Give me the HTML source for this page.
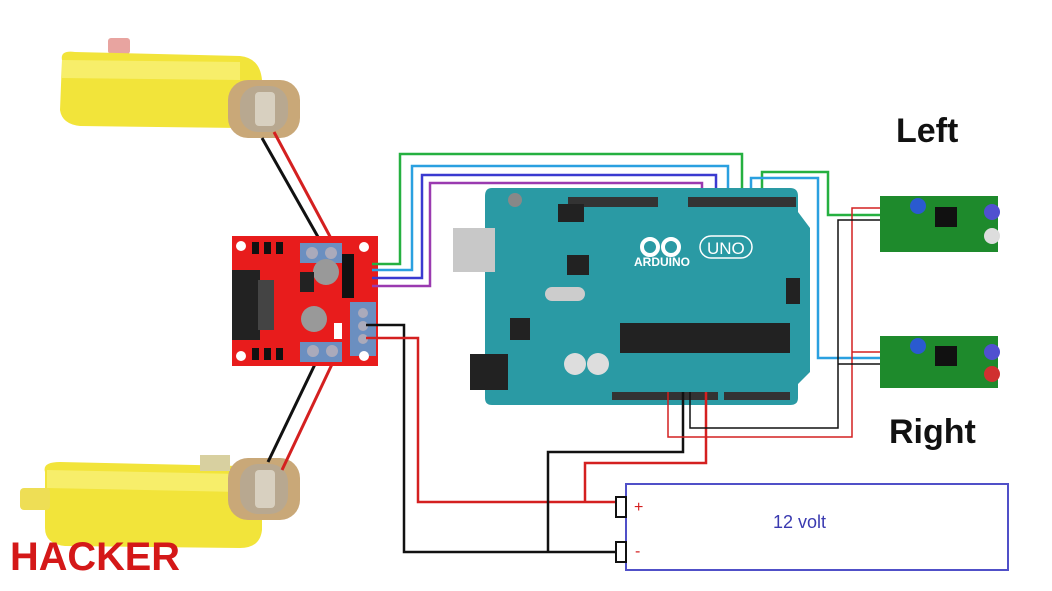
<!DOCTYPE html>
<html><head><meta charset="utf-8"><style>
html,body{margin:0;padding:0;background:#fff;}
svg{display:block}
</style></head><body>
<svg width="1052" height="591" viewBox="0 0 1052 591" xmlns="http://www.w3.org/2000/svg">
<rect width="1052" height="591" fill="#fff"/>

<!-- Top motor -->
<rect x="108" y="38" width="22" height="16" rx="3" fill="#e8a4a0"/>
<path d="M62 60 Q60 50 75 52 L240 56 Q260 58 262 80 L262 115 Q260 128 240 128 L80 126 Q62 124 60 110 Z" fill="#f2e43a"/>
<path d="M62 60 L240 62 L240 80 L62 78 Z" fill="#f7ee6a"/>
<rect x="228" y="80" width="72" height="58" rx="20" fill="#c9a878"/>
<rect x="240" y="86" width="48" height="46" rx="18" fill="#b8a890"/>
<rect x="255" y="92" width="20" height="34" rx="4" fill="#d8d0c0"/>
<!-- Bottom motor -->
<path d="M45 472 Q42 462 60 462 L240 466 Q262 468 262 490 L262 530 Q260 548 240 548 L65 546 Q45 544 45 528 Z" fill="#f2e43a"/>
<path d="M47 470 L240 474 L240 492 L47 488 Z" fill="#f7ee6a"/>
<rect x="20" y="488" width="30" height="22" rx="4" fill="#eede55"/>
<rect x="228" y="458" width="72" height="62" rx="20" fill="#c9a878"/>
<rect x="240" y="464" width="48" height="50" rx="18" fill="#b8a890"/>
<rect x="255" y="470" width="20" height="38" rx="4" fill="#d8d0c0"/>
<rect x="200" y="455" width="30" height="16" fill="#d8d0a0"/>

<!-- motor wires -->
<line x1="262" y1="138" x2="322" y2="244" stroke="#111" stroke-width="3"/>
<line x1="274" y1="132" x2="334" y2="244" stroke="#d42020" stroke-width="3"/>
<line x1="318" y1="358" x2="268" y2="462" stroke="#111" stroke-width="3"/>
<line x1="334" y1="360" x2="282" y2="470" stroke="#d42020" stroke-width="3"/>

<!-- L298N -->
<rect x="232" y="236" width="146" height="130" fill="#e81c1c"/>
<rect x="232" y="270" width="28" height="70" fill="#222"/>
<rect x="258" y="280" width="16" height="50" fill="#444"/>
<rect x="300" y="243" width="42" height="20" fill="#6b8fc0"/>
<circle cx="312" cy="253" r="6" fill="#aab"/><circle cx="331" cy="253" r="6" fill="#aab"/>
<rect x="300" y="342" width="42" height="20" fill="#6b8fc0"/>
<circle cx="313" cy="351" r="6" fill="#aab"/><circle cx="332" cy="351" r="6" fill="#aab"/>
<rect x="350" y="302" width="26" height="54" fill="#6b8fc0"/>
<circle cx="363" cy="313" r="5" fill="#aab"/><circle cx="363" cy="326" r="5" fill="#aab"/><circle cx="363" cy="339" r="5" fill="#aab"/>
<circle cx="326" cy="272" r="13" fill="#999"/><circle cx="314" cy="319" r="13" fill="#999"/>
<rect x="300" y="272" width="14" height="20" fill="#222"/>
<rect x="342" y="254" width="12" height="44" fill="#111"/>
<g fill="#111"><rect x="252" y="242" width="7" height="12"/><rect x="264" y="242" width="7" height="12"/><rect x="276" y="242" width="7" height="12"/><rect x="252" y="348" width="7" height="12"/><rect x="264" y="348" width="7" height="12"/><rect x="276" y="348" width="7" height="12"/></g>
<g fill="#fff"><circle cx="241" cy="246" r="5"/><circle cx="364" cy="247" r="5"/><circle cx="241" cy="356" r="5"/><circle cx="364" cy="356" r="5"/></g>
<rect x="334" y="323" width="8" height="16" fill="#fff"/>

<!-- signal wires -->
<g fill="none" stroke-width="2.5">
<polyline points="372,264 400,264 400,154 742,154 742,196" stroke="#25b040"/>
<polyline points="372,270 412,270 412,166 728,166 728,196" stroke="#2aa0e0"/>
<polyline points="372,278 422,278 422,175 716,175 716,196" stroke="#3a3ad0"/>
<polyline points="372,286 430,286 430,183 702,183 702,196" stroke="#9a3ab0"/>
<polyline points="762,196 762,172 828,172 828,215 880,215" stroke="#25b040"/>
<polyline points="751,196 751,178 818,178 818,358 880,358" stroke="#2aa0e0"/>
</g>

<!-- Arduino -->
<path d="M492 188 L790 188 Q798 188 798 196 L798 212 L810 228 L810 372 L798 384 L798 398 Q798 405 790 405 L492 405 Q485 405 485 398 L485 196 Q485 188 492 188 Z" fill="#2a9aa4"/>
<rect x="453" y="228" width="42" height="44" fill="#c8c8c8"/>
<rect x="470" y="354" width="38" height="36" fill="#222"/>
<rect x="568" y="197" width="90" height="10" fill="#333"/>
<rect x="688" y="197" width="108" height="10" fill="#333"/>
<rect x="612" y="392" width="106" height="8" fill="#333"/>
<rect x="724" y="392" width="66" height="8" fill="#333"/>
<rect x="620" y="323" width="170" height="30" fill="#222"/>
<rect x="567" y="255" width="22" height="20" fill="#222"/>
<rect x="545" y="287" width="40" height="14" rx="7" fill="#ccc"/>
<circle cx="575" cy="364" r="11" fill="#ddd"/><circle cx="598" cy="364" r="11" fill="#ddd"/>
<rect x="558" y="204" width="26" height="18" fill="#222"/>
<rect x="786" y="278" width="14" height="26" fill="#222"/>
<rect x="510" y="318" width="20" height="22" fill="#222"/>
<circle cx="515" cy="200" r="7" fill="#888"/>
<text x="634" y="266" font-family="Liberation Sans,sans-serif" font-size="12" font-weight="bold" fill="#fff">ARDUINO</text>
<circle cx="650" cy="247" r="8" fill="none" stroke="#fff" stroke-width="4"/><circle cx="671" cy="247" r="8" fill="none" stroke="#fff" stroke-width="4"/>
<rect x="700" y="236" width="52" height="22" rx="11" fill="none" stroke="#fff" stroke-width="1.5"/>
<text x="707" y="254" font-family="Liberation Sans,sans-serif" font-size="17" fill="#fff">UNO</text>

<!-- power wires -->
<g fill="none" stroke-width="2.5">
<polyline points="366,325 404,325 404,552 622,552" stroke="#111"/>
<polyline points="366,338 418,338 418,502 622,502" stroke="#d42020"/>
<polyline points="683,392 683,452 548,452 548,552" stroke="#111"/>
<polyline points="706,392 706,463 585,463 585,502" stroke="#d42020"/>
</g>
<g fill="none" stroke-width="1.5">
<polyline points="668,392 668,437 852,437 852,208 882,208" stroke="#d42020"/>
<polyline points="690,392 690,428 838,428 838,220 882,220" stroke="#111"/>
<polyline points="852,352 882,352" stroke="#d42020"/>
<polyline points="838,364 882,364" stroke="#111"/>
</g>

<!-- sensors -->
<g>
<rect x="880" y="196" width="118" height="56" fill="#1e8a2c"/>
<rect x="935" y="207" width="22" height="20" fill="#111"/>
<circle cx="918" cy="206" r="8" fill="#2a5ad0"/>
<circle cx="992" cy="212" r="8" fill="#5050d0"/><circle cx="992" cy="236" r="8" fill="#ddd"/>
<rect x="880" y="336" width="118" height="52" fill="#1e8a2c"/>
<rect x="935" y="346" width="22" height="20" fill="#111"/>
<circle cx="918" cy="346" r="8" fill="#2a5ad0"/>
<circle cx="992" cy="352" r="8" fill="#5050d0"/><circle cx="992" cy="374" r="8" fill="#d03030"/>
</g>
<text x="896" y="142" font-family="Liberation Sans,sans-serif" font-size="34" font-weight="bold" fill="#111">Left</text>
<text x="889" y="443" font-family="Liberation Sans,sans-serif" font-size="34" font-weight="bold" fill="#111">Right</text>

<!-- battery -->
<rect x="626" y="484" width="382" height="86" fill="#fff" stroke="#5050c8" stroke-width="2"/>
<rect x="616" y="497" width="10" height="20" fill="#fff" stroke="#111" stroke-width="2"/>
<rect x="616" y="542" width="10" height="20" fill="#fff" stroke="#111" stroke-width="2"/>
<text x="634" y="512" font-family="Liberation Sans,sans-serif" font-size="16" fill="#d42020">+</text>
<text x="635" y="556" font-family="Liberation Sans,sans-serif" font-size="16" fill="#d42020">-</text>
<text x="773" y="528" font-family="Liberation Sans,sans-serif" font-size="18" fill="#3a3ab0">12 volt</text>

<!-- logo -->
<text x="10" y="570" font-family="Liberation Sans,sans-serif" font-size="40" font-weight="bold" fill="#d41818" textLength="170" lengthAdjust="spacingAndGlyphs">HACKER</text>
</svg>
</body></html>
